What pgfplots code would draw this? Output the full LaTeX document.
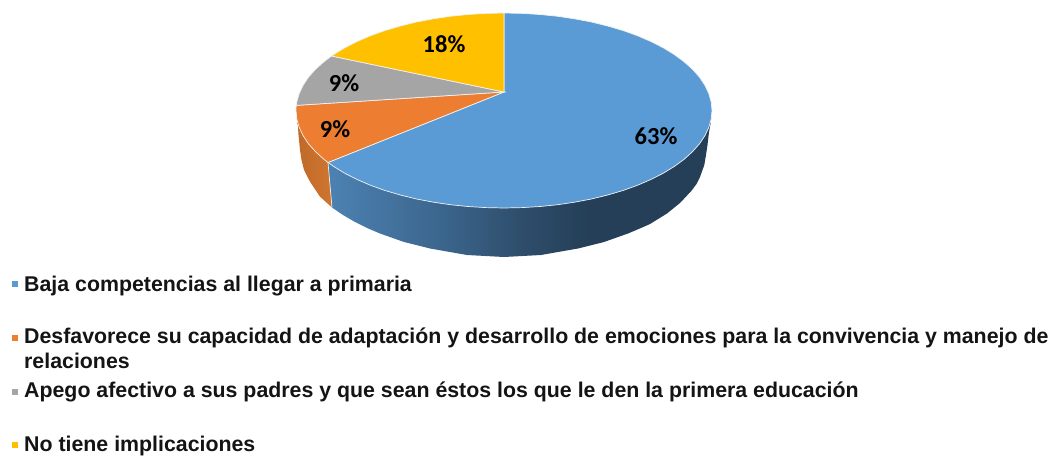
\documentclass[border=0pt]{standalone}
\usepackage{fontspec}
\setmainfont{Liberation Sans}
\newfontfamily\calib{Carlito}
\usepackage{pgfplots}
\pgfplotsset{compat=1.18}
\definecolor{cblue}{HTML}{5B9BD5}
\definecolor{corange}{HTML}{ED7D31}
\definecolor{cgray}{HTML}{A5A5A5}
\definecolor{cyellow}{HTML}{FFC000}
\definecolor{sa}{HTML}{4B80B0}
\definecolor{sb}{HTML}{3A6389}
\definecolor{sc}{HTML}{2F4E6C}
\definecolor{sd}{HTML}{243F57}
\definecolor{oa}{HTML}{C06A28}
\definecolor{ob}{HTML}{CF7530}
\pgfdeclarehorizontalshading{blueside}{100bp}{color(0bp)=(sa); color(26bp)=(sa); color(41bp)=(sb); color(50bp)=(sc); color(59bp)=(sd); color(100bp)=(sd)}
\pgfdeclarehorizontalshading{orangeside}{100bp}{color(0bp)=(oa); color(25bp)=(oa); color(75bp)=(ob); color(100bp)=(ob)}
\tikzset{
  legtext/.style={anchor=base west, font=\fontsize{21.33}{24}\selectfont\bfseries, inner sep=0pt, text=black!92},
  pct/.style={anchor=base, font=\fontsize{24.5}{28}\selectfont\calib\bfseries, inner sep=0pt, text=black},
}
\begin{document}
\begin{tikzpicture}
\begin{axis}[
  scale only axis, width=1057pt, height=456pt,
  xmin=0, xmax=1057, ymin=0, ymax=456, y dir=reverse,
  axis lines=none, clip=false,
]
\path (axis cs:0,0) rectangle (axis cs:1057,456);
% side walls
\addplot[shade, shading=blueside, draw=none] coordinates {
(328,162.5)(504,150)(711,119)(710.5,124)(709,132)(707.5,145)(706,155)(704.3,165)(700,177)(696.5,184)(691.7,190.5)(680,203)(667,213.5)(650,224)(641,228)(628,233.5)(604,242)(578,248.5)(541,255)(504,257)(467,255)(430,248.5)(404,242)(380,233.5)(367,228)(355,222)(343,215)(332,207.5)} -- cycle;
\addplot[shade, shading=orangeside, draw=none] coordinates {
(328,162.5)(332,207.5)(320,196.7)(310,181.7)(304,170)(301.5,160)(300,150)(298.5,135)(298,127)(297,118)(330,120)} -- cycle;
\addplot[white!85!gray, line width=0.7pt] coordinates {(328,162.5)(332,207.5)};
% top faces
\addplot[fill=cblue, draw=white!90!gray, line width=0.7pt] coordinates {
(504,92)(504,13)(522.1,13.4)(540.1,14.5)(557.8,16.3)(575.1,18.9)(591.9,22.1)(608,26.1)(623.3,30.6)(637.7,35.8)(651.1,41.6)(663.3,47.8)(674.4,54.6)(684.1,61.8)(692.5,69.3)(699.5,77.2)(704.9,85.3)(708.8,93.6)(711.2,102)(712,110.5)(711.2,119)(708.8,127.4)(704.9,135.7)(699.5,143.8)(692.5,151.7)(684.1,159.3)(674.4,166.4)(663.3,173.2)(651.1,179.4)(637.7,185.2)(623.3,190.4)(608,194.9)(591.9,198.9)(575.1,202.1)(557.8,204.7)(540.1,206.5)(522.1,207.6)(504,208)(485.9,207.6)(467.9,206.5)(450.2,204.7)(432.9,202.1)(416.1,198.9)(400,194.9)(384.7,190.4)(370.3,185.2)(356.9,179.4)(344.7,173.2)(333.6,166.4)(328,162.5)} -- cycle;
\addplot[fill=corange, draw=white!90!gray, line width=0.7pt] coordinates {
(504,92)(328,162.5)(323.9,159.3)(315.5,151.7)(308.5,143.8)(303.1,135.7)(299.2,127.4)(296.8,119)(296,110.5)(296.2,105.4)} -- cycle;
\addplot[fill=cgray, draw=white!90!gray, line width=0.7pt] coordinates {
(504,92)(296.2,105.4)(296.8,102)(299.2,93.6)(303.1,85.3)(308.5,77.2)(315.5,69.3)(323.9,61.8)(331.5,56)} -- cycle;
\addplot[fill=cyellow, draw=white!90!gray, line width=0.7pt] coordinates {
(504,92)(331.5,56)(333.6,54.6)(344.7,47.8)(356.9,41.6)(370.3,35.8)(384.7,30.6)(400,26.1)(416.1,22.1)(432.9,18.9)(450.2,16.3)(467.9,14.5)(485.9,13.4)(504,13)} -- cycle;
% legend markers
\addplot[only marks, mark=square*, mark size=2.4pt, color=cblue] coordinates {(14.5,284)};
\addplot[only marks, mark=square*, mark size=2.4pt, color=corange] coordinates {(14.5,337.7)};
\addplot[only marks, mark=square*, mark size=2.4pt, color=cgray] coordinates {(14.5,391.7)};
\addplot[only marks, mark=square*, mark size=2.4pt, color=cyellow] coordinates {(14.5,445)};
% percentages
\node[pct] at (axis cs:656,145) {63\%};
\node[pct] at (axis cs:444,52.7) {18\%};
\node[pct] at (axis cs:344,91.3) {9\%};
\node[pct] at (axis cs:335,137.3) {9\%};
% legend text
\node[legtext] at (axis cs:24,291) {Baja competencias al llegar a primaria};
\node[legtext] at (axis cs:24,343.7) {Desfavorece su capacidad de adaptación y desarrollo de emociones para la convivencia y manejo de};
\node[legtext] at (axis cs:24,368.7) {relaciones};
\node[legtext] at (axis cs:24,397.3) {Apego afectivo a sus padres y que sean éstos los que le den la primera educación};
\node[legtext] at (axis cs:24,451.7) {No tiene implicaciones};
\end{axis}
\end{tikzpicture}
\end{document}
